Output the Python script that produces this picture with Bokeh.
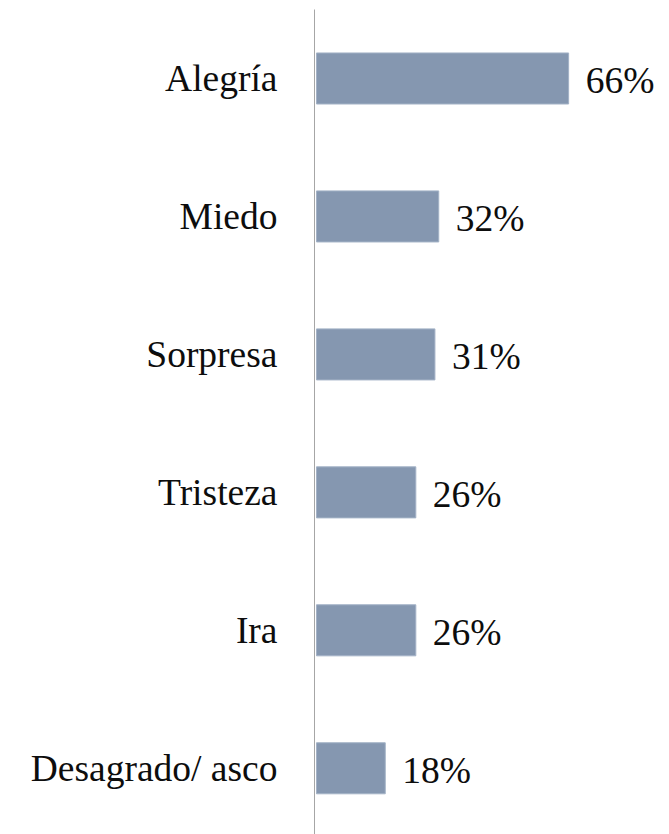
from bokeh.plotting import figure
from bokeh.models import Range1d, FixedTicker, ColumnDataSource
from bokeh.core.properties import value
from bokeh.embed import file_html
from bokeh.resources import INLINE

categories = ["Alegría", "Miedo", "Sorpresa", "Tristeza", "Ira", "Desagrado/ asco"]
values = [66, 32, 31, 26, 26, 18]

FONT = "Liberation Serif"

idx = list(range(len(categories)))
src = ColumnDataSource(dict(
    y=idx,
    v=values,
    lab=[f"{v}%" for v in values],
))

p = figure(width=669, height=834, output_backend="svg", toolbar_location=None,
           x_range=Range1d(-0.52, 92.4), y_range=Range1d(5.48, -0.5),
           min_border_left=314, min_border_right=0, min_border_top=9, min_border_bottom=0)

p.hbar(y="y", left=0, right="v", height=0.37, source=src,
       fill_color="#8597B0", line_color="#a3b2c6", line_width=1)

p.text(x="v", y="y", text="lab", source=src, x_offset=17, y_offset=2,
       text_font=value(FONT), text_font_size="37.5px", text_color="#0d0d0d",
       text_baseline="middle", text_align="left")

p.xaxis.visible = False
p.xgrid.visible = False
p.ygrid.visible = False
p.outline_line_color = None

ya = p.yaxis[0]
ya.ticker = FixedTicker(ticks=idx)
ya.major_label_overrides = {i: c for i, c in zip(idx, categories)}
ya.major_tick_in = 0
ya.major_tick_out = 0
ya.minor_tick_in = 0
ya.minor_tick_out = 0
ya.axis_line_color = "#a6a6a6"
ya.axis_line_width = 1
ya.major_label_standoff = 37
ya.major_label_text_font = FONT
ya.major_label_text_font_size = "37.5px"
ya.major_label_text_color = "#0d0d0d"

open("out.html", "w").write(file_html(p, INLINE))
